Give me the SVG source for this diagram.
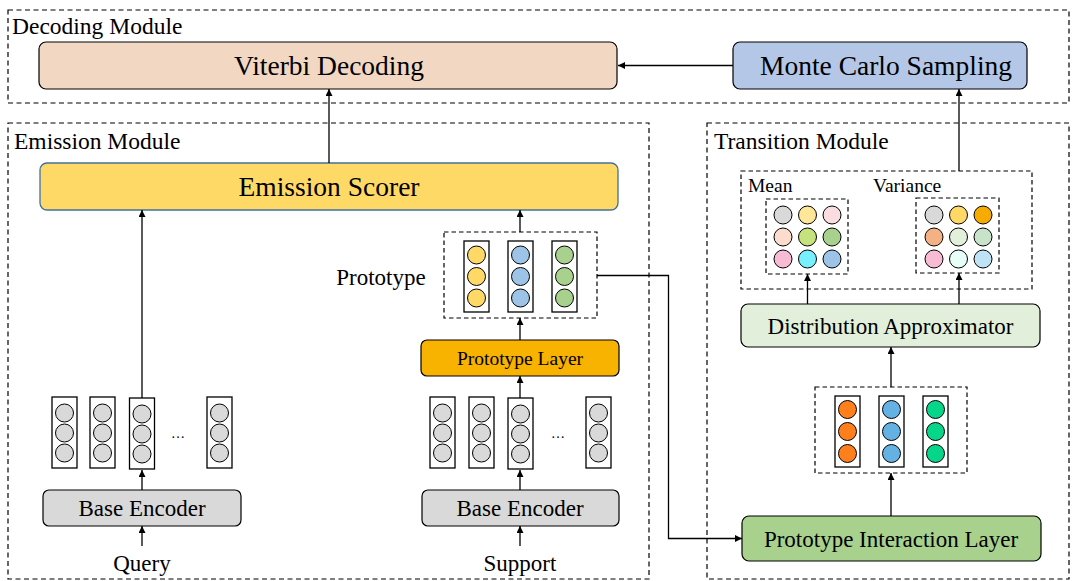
<svg xmlns="http://www.w3.org/2000/svg" width="1073" height="581" viewBox="0 0 1073 581">
<style>
text{font-family:"Liberation Serif","Times New Roman",serif;fill:#000}
.mod{fill:none;stroke:#000;stroke-width:1.2;stroke-dasharray:5,3.5}
.grp{fill:none;stroke:#000;stroke-width:1.2;stroke-dasharray:4.5,3}
.box{stroke:#000;stroke-width:1.2}
.col{fill:#fff;stroke:#000;stroke-width:1.3}
.c{stroke:#000;stroke-width:1}
.cg{fill:#D9D9D9;stroke:#000;stroke-width:1}
.ln{fill:none;stroke:#000;stroke-width:1.3}
.big{font-size:27.5px}
.mid{font-size:23px}
.lab{font-size:23.5px}
</style>
<defs>
<marker id="ah" viewBox="0 0 10 10" refX="10" refY="5" markerWidth="7" markerHeight="7" markerUnits="userSpaceOnUse" orient="auto">
<path d="M0,0 L10,5 L0,10 z" fill="#000"/>
</marker>
<g id="colG">
<rect class="col" x="-12.5" y="-36" width="25" height="71"/>
<circle class="cg" cx="0" cy="-20" r="9"/>
<circle class="cg" cx="0" cy="0" r="9"/>
<circle class="cg" cx="0" cy="20" r="9"/>
</g>
</defs>

<!-- module containers -->
<g id="decoding-module">
<rect class="mod" x="8" y="10" width="1061" height="93"/>
<text class="lab" x="12" y="34">Decoding Module</text>
</g>
<g id="emission-module">
<rect class="mod" x="8" y="123" width="641" height="456"/>
<text class="lab" x="14" y="149">Emission Module</text>
</g>
<g id="transition-module">
<rect class="mod" x="707" y="123" width="362" height="456"/>
<text class="lab" x="714" y="149">Transition Module</text>
</g>

<!-- nodes -->
<g id="viterbi">
<rect class="box" x="39" y="42" width="578" height="47" rx="7" fill="#F2D8C2"/>
<text class="big" x="329" y="75" text-anchor="middle">Viterbi Decoding</text>
</g>
<g id="monte-carlo">
<rect class="box" x="733" y="42" width="294" height="47" rx="7" fill="#B4C7E7"/>
<text class="big" x="886" y="75" text-anchor="middle">Monte Carlo Sampling</text>
</g>
<g id="emission-scorer">
<rect x="40" y="163" width="578" height="47" rx="7" fill="#FFD966" stroke="#41719C" stroke-width="1.3"/>
<text class="big" x="329" y="196" text-anchor="middle">Emission Scorer</text>
</g>

<g id="prototype">
<rect class="grp" x="444" y="232" width="153" height="86"/>
<text class="mid" x="381" y="284.5" text-anchor="middle">Prototype</text>
<rect class="col" x="464" y="241" width="25" height="71"/>
<circle class="c" cx="476.5" cy="255" r="9" fill="#FFD966"/>
<circle class="c" cx="476.5" cy="276.5" r="9" fill="#FFD966"/>
<circle class="c" cx="476.5" cy="298" r="9" fill="#FFD966"/>
<rect class="col" x="508" y="241" width="25" height="71"/>
<circle class="c" cx="520.5" cy="255" r="9" fill="#9DC3E6"/>
<circle class="c" cx="520.5" cy="276.5" r="9" fill="#9DC3E6"/>
<circle class="c" cx="520.5" cy="298" r="9" fill="#9DC3E6"/>
<rect class="col" x="552" y="241" width="25" height="71"/>
<circle class="c" cx="564.5" cy="255" r="9" fill="#A9D18E"/>
<circle class="c" cx="564.5" cy="276.5" r="9" fill="#A9D18E"/>
<circle class="c" cx="564.5" cy="298" r="9" fill="#A9D18E"/>
</g>

<g id="prototype-layer">
<rect class="box" x="421" y="340" width="198" height="36" rx="6" fill="#F8B200"/>
<text x="520" y="365" font-size="19.5" text-anchor="middle">Prototype Layer</text>
</g>

<g id="query-vectors">
<use href="#colG" x="64.5" y="433"/>
<use href="#colG" x="102.5" y="433"/>
<use href="#colG" x="142" y="434"/>
<use href="#colG" x="219.5" y="433"/>
<text x="178" y="438" font-size="14" text-anchor="middle">…</text>
</g>
<g id="support-vectors">
<use href="#colG" x="442.5" y="433"/>
<use href="#colG" x="481.5" y="433"/>
<use href="#colG" x="520.5" y="434"/>
<use href="#colG" x="598.5" y="433"/>
<text x="558" y="438" font-size="14" text-anchor="middle">…</text>
</g>

<g id="base-encoder-query">
<rect class="box" x="43" y="490" width="198" height="36" rx="6" fill="#D9D9D9"/>
<text class="mid" x="142" y="516" text-anchor="middle">Base Encoder</text>
</g>
<g id="base-encoder-support">
<rect class="box" x="422" y="490" width="197" height="36" rx="6" fill="#D9D9D9"/>
<text class="mid" x="520" y="516" text-anchor="middle">Base Encoder</text>
</g>
<g id="query-label"><text class="mid" x="142" y="571" text-anchor="middle">Query</text></g>
<g id="support-label"><text class="mid" x="520" y="571" text-anchor="middle">Support</text></g>

<g id="mean-variance">
<rect class="grp" x="741" y="171" width="291" height="118"/>
<text x="748" y="192" font-size="19.5">Mean</text>
<text x="873" y="192" font-size="19.5">Variance</text>
<rect class="grp" x="766" y="199" width="82" height="75"/>
<circle class="c" cx="783" cy="215" r="9" fill="#D9D9D9"/>
<circle class="c" cx="807.5" cy="215" r="9" fill="#FFE699"/>
<circle class="c" cx="832" cy="215" r="9" fill="#FADDE1"/>
<circle class="c" cx="783" cy="237" r="9" fill="#FCDCCD"/>
<circle class="c" cx="807.5" cy="237" r="9" fill="#C5E27C"/>
<circle class="c" cx="832" cy="237" r="9" fill="#A9D18E"/>
<circle class="c" cx="783" cy="259" r="9" fill="#F8BBD4"/>
<circle class="c" cx="807.5" cy="259" r="9" fill="#78EFFF"/>
<circle class="c" cx="832" cy="259" r="9" fill="#9DC3E6"/>
<rect class="grp" x="916" y="198" width="83" height="75"/>
<circle class="c" cx="934" cy="215" r="9" fill="#D9D9D9"/>
<circle class="c" cx="958.5" cy="215" r="9" fill="#FFD966"/>
<circle class="c" cx="983" cy="215" r="9" fill="#F6AB00"/>
<circle class="c" cx="934" cy="237" r="9" fill="#F4B183"/>
<circle class="c" cx="958.5" cy="237" r="9" fill="#E2EFDA"/>
<circle class="c" cx="983" cy="237" r="9" fill="#C8E3CA"/>
<circle class="c" cx="934" cy="259" r="9" fill="#F8BBD4"/>
<circle class="c" cx="958.5" cy="259" r="9" fill="#E6FFF8"/>
<circle class="c" cx="983" cy="259" r="9" fill="#BDE3F4"/>
</g>

<g id="distribution-approximator">
<rect class="box" x="741" y="304" width="299" height="43" rx="7" fill="#E2EFDA"/>
<text class="mid" x="890.5" y="333.5" text-anchor="middle">Distribution Approximator</text>
</g>

<g id="interaction-vectors">
<rect class="grp" x="815" y="387" width="152" height="86"/>
<rect class="col" x="835" y="396" width="25" height="71"/>
<circle class="c" cx="847.5" cy="409.5" r="9" fill="#FF7F1A"/>
<circle class="c" cx="847.5" cy="431.5" r="9" fill="#FF7F1A"/>
<circle class="c" cx="847.5" cy="453.5" r="9" fill="#FF7F1A"/>
<rect class="col" x="879" y="396" width="25" height="71"/>
<circle class="c" cx="891.5" cy="409.5" r="9" fill="#63B2E3"/>
<circle class="c" cx="891.5" cy="431.5" r="9" fill="#63B2E3"/>
<circle class="c" cx="891.5" cy="453.5" r="9" fill="#63B2E3"/>
<rect class="col" x="923" y="396" width="25" height="71"/>
<circle class="c" cx="935.5" cy="409.5" r="9" fill="#05D68A"/>
<circle class="c" cx="935.5" cy="431.5" r="9" fill="#05D68A"/>
<circle class="c" cx="935.5" cy="453.5" r="9" fill="#05D68A"/>
</g>

<g id="prototype-interaction-layer">
<rect class="box" x="742" y="516" width="299" height="45" rx="7" fill="#A9D18E"/>
<text class="mid" x="891" y="547" text-anchor="middle">Prototype Interaction Layer</text>
</g>

<!-- connectors -->
<g id="connectors">
<line class="ln" x1="733" y1="65.5" x2="618" y2="65.5" marker-end="url(#ah)"/>
<line class="ln" x1="329" y1="163" x2="329" y2="89" marker-end="url(#ah)"/>
<line class="ln" x1="959" y1="171" x2="959" y2="89" marker-end="url(#ah)"/>
<line class="ln" x1="142" y1="398" x2="142" y2="210" marker-end="url(#ah)"/>
<line class="ln" x1="520" y1="232" x2="520" y2="210" marker-end="url(#ah)"/>
<line class="ln" x1="520" y1="340" x2="520" y2="318" marker-end="url(#ah)"/>
<line class="ln" x1="520" y1="398" x2="520" y2="376" marker-end="url(#ah)"/>
<line class="ln" x1="142" y1="490" x2="142" y2="470" marker-end="url(#ah)"/>
<line class="ln" x1="520" y1="490" x2="520" y2="470" marker-end="url(#ah)"/>
<line class="ln" x1="142" y1="546" x2="142" y2="526" marker-end="url(#ah)"/>
<line class="ln" x1="520" y1="546" x2="520" y2="526" marker-end="url(#ah)"/>
<polyline class="ln" points="597,275.5 668.5,275.5 668.5,538.5 742,538.5" marker-end="url(#ah)"/>
<line class="ln" x1="807.5" y1="304" x2="807.5" y2="274" marker-end="url(#ah)"/>
<line class="ln" x1="959" y1="304" x2="959" y2="273" marker-end="url(#ah)"/>
<line class="ln" x1="891" y1="387" x2="891" y2="347" marker-end="url(#ah)"/>
<line class="ln" x1="891" y1="516" x2="891" y2="473" marker-end="url(#ah)"/>
</g>
</svg>
